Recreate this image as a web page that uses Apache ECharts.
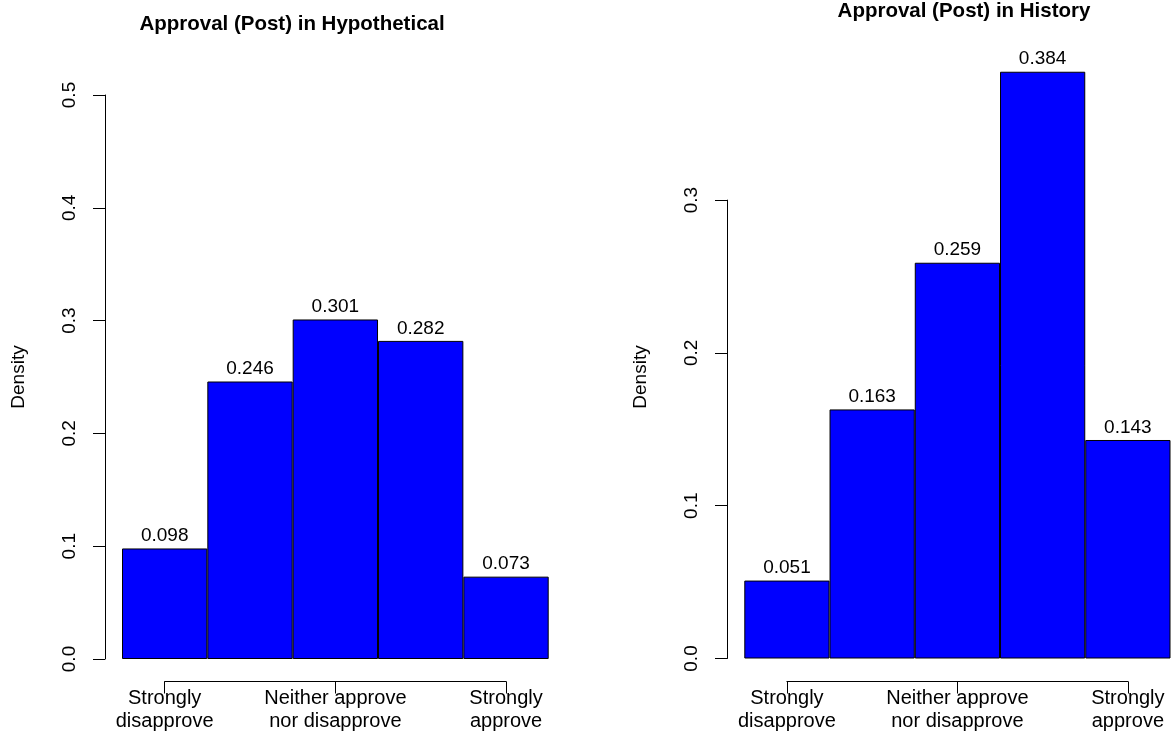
<!DOCTYPE html>
<html><head><meta charset="utf-8">
<script src="https://cdn.jsdelivr.net/npm/echarts@6/dist/echarts.min.js"></script>
<style>html,body{margin:0;padding:0;background:#fff}#c{width:1173px;height:736px}</style>
</head><body><div id="c"></div>
<script>
// ---- data ----
const categories = ['Strongly disapprove', 'Disapprove', 'Neither approve nor disapprove', 'Approve', 'Strongly approve'];
const hypotheticalValues = [0.098, 0.246, 0.301, 0.282, 0.073];
const historyValues = [0.051, 0.163, 0.259, 0.384, 0.143];
const hypotheticalYMax = 0.5;
const historyYMax = 0.3;
const yTickStep = 0.1;
const xTickIndex = [1, 3, 5];
const xTickLabels = ['Strongly\ndisapprove', 'Neither approve\nnor disapprove', 'Strongly\napprove'];
const titles = ['Approval (Post) in Hypothetical', 'Approval (Post) in History'];
const yName = 'Density';

// ---- layout ----
const FONT = 'Liberation Sans, Arial, Helvetica, sans-serif';
const FS = 19;
const chart = echarts.init(document.getElementById('c'), null, {renderer: 'canvas'});

const L = {left: 122, width: 426.7, base: 659, pxPerUnit: 1128};   // left panel
const R = {left: 744.3, width: 426.2, base: 658.5, pxPerUnit: 1528}; // right panel
const barW = p => p.width / categories.length;

function bracketGrid(p) {
  const bw = barW(p);
  const x0 = p.left + bw * (xTickIndex[0] - 0.5);
  const x1 = p.left + bw * (xTickIndex[xTickIndex.length - 1] - 0.5);
  return {left: x0, width: x1 - x0, top: 600, height: 81.5};
}

const rightTop = 0.4;
const grids = [
  {left: L.left, width: L.width, top: L.base - hypotheticalYMax * L.pxPerUnit, height: hypotheticalYMax * L.pxPerUnit},
  bracketGrid(L),
  {left: R.left, width: R.width, top: R.base - rightTop * R.pxPerUnit, height: rightTop * R.pxPerUnit},
  {left: R.left, width: R.width, top: R.base - historyYMax * R.pxPerUnit, height: historyYMax * R.pxPerUnit},
  bracketGrid(R)
];

const hiddenAxis = (type, gi, extra) => Object.assign({type, gridIndex: gi, show: false}, extra || {});

function visibleY(gi, max, offset) {
  return {
    type: 'value', gridIndex: gi, min: 0, max: max, interval: yTickStep, offset: offset,
    axisLine: {show: true, lineStyle: {color: '#000', width: 1}},
    axisTick: {show: true, length: 12, lineStyle: {color: '#000', width: 1}},
    splitLine: {show: false},
    axisLabel: {rotate: 90, margin: 26, color: '#000', fontSize: FS, fontFamily: FONT,
      formatter: v => v.toFixed(1)}
  };
}

function bracketX(gi) {
  return {
    type: 'value', gridIndex: gi, min: xTickIndex[0], max: xTickIndex[xTickIndex.length - 1],
    interval: xTickIndex[1] - xTickIndex[0], position: 'bottom',
    axisLine: {show: true, lineStyle: {color: '#000', width: 1}},
    axisTick: {show: true, inside: false, length: 12, lineStyle: {color: '#000', width: 1}},
    splitLine: {show: false},
    axisLabel: {margin: 5, color: '#000', fontSize: 20, fontFamily: FONT, lineHeight: 23.5, align: 'center',
      formatter: v => xTickLabels[xTickIndex.indexOf(Math.round(v))] || ''}
  };
}

function barSeries(xi, yi, values) {
  return {
    type: 'bar', xAxisIndex: xi, yAxisIndex: yi, data: values, barCategoryGap: '0%',
    itemStyle: {color: '#0000FF', borderColor: '#000', borderWidth: 1},
    label: {show: true, position: 'top', distance: 3, color: '#000', fontSize: FS, fontFamily: FONT,
      formatter: p => p.value.toFixed(3)},
    emphasis: {disabled: true}, silent: true, animation: false
  };
}

chart.setOption({
  animation: false,
  backgroundColor: '#fff',
  textStyle: {fontFamily: FONT},
  title: [
    {text: titles[0], left: 292, top: 14, textAlign: 'center', padding: 0,
      textStyle: {fontSize: 20.5, fontWeight: 'bold', color: '#000', fontFamily: FONT}},
    {text: titles[1], left: 964, top: 1, textAlign: 'center', padding: 0,
      textStyle: {fontSize: 20.5, fontWeight: 'bold', color: '#000', fontFamily: FONT}}
  ],
  grid: grids,
  xAxis: [
    hiddenAxis('category', 0, {data: categories}),
    bracketX(1),
    hiddenAxis('category', 2, {data: categories}),
    hiddenAxis('category', 3, {data: categories}),
    bracketX(4)
  ],
  yAxis: [
    visibleY(0, hypotheticalYMax, L.left - 105),
    hiddenAxis('value', 1, {min: 0, max: 1}),
    hiddenAxis('value', 2, {min: 0, max: rightTop}),
    visibleY(3, historyYMax, R.left - 727),
    hiddenAxis('value', 4, {min: 0, max: 1})
  ],
  graphic: [
    {type: 'text', x: 19, y: 377, rotation: Math.PI / 2,
      style: {text: yName, fill: '#000', font: FS + 'px ' + FONT, align: 'center', verticalAlign: 'middle'}},
    {type: 'text', x: 641, y: 377, rotation: Math.PI / 2,
      style: {text: yName, fill: '#000', font: FS + 'px ' + FONT, align: 'center', verticalAlign: 'middle'}}
  ],
  series: [
    barSeries(0, 0, hypotheticalValues),
    barSeries(2, 2, historyValues)
  ]
});
</script>
</body></html>
